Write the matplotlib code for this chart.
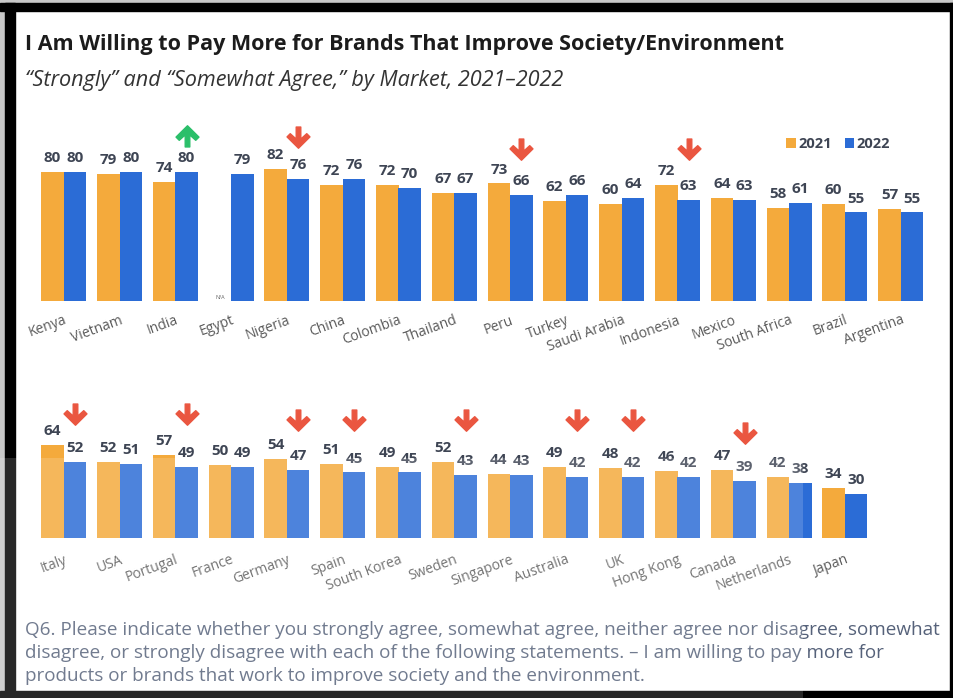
import numpy as np
import matplotlib
matplotlib.use("Agg")
import matplotlib.pyplot as plt
from matplotlib.path import Path
from matplotlib.patches import Rectangle

# ---------------- data ----------------
markets_top = ["Kenya", "Vietnam", "India", "Egypt", "Nigeria", "China", "Colombia",
               "Thailand", "Peru", "Turkey", "Saudi Arabia", "Indonesia", "Mexico",
               "South Africa", "Brazil", "Argentina"]
agree_2021_top = [80, 79, 74, np.nan, 82, 72, 72, 67, 73, 62, 60, 72, 64, 58, 60, 57]
agree_2022_top = [80, 80, 80, 79, 76, 76, 70, 67, 66, 66, 64, 63, 63, 61, 55, 55]

markets_bottom = ["Italy", "USA", "Portugal", "France", "Germany", "Spain", "South Korea",
                  "Sweden", "Singapore", "Australia", "UK", "Hong Kong", "Canada",
                  "Netherlands", "Japan"]
agree_2021_bottom = [64, 52, 57, 50, 54, 51, 49, 52, 44, 49, 48, 46, 47, 42, 34]
agree_2022_bottom = [52, 51, 49, 49, 47, 45, 45, 43, 43, 42, 42, 42, 39, 38, 30]

years = ["2021", "2022"]

title = "I Am Willing to Pay More for Brands That Improve Society/Environment"
subtitle = "\u201cStrongly\u201d and \u201cSomewhat Agree,\u201d by Market, 2021\u20132022"
footnote = [
    "Q6. Please indicate whether you strongly agree, somewhat agree, neither agree nor disagree, somewhat",
    "disagree, or strongly disagree with each of the following statements. \u2013 I am willing to pay more for",
    "products or brands that work to improve society and the environment.",
]

# ---------------- style ----------------
W, H = 954, 698
DPI = 100
ORANGE = "#F4AA3C"
BLUE = "#2B6CD6"
LABEL_C = "#3E4554"
TICK_C = "#5A5A5A"
FONT = "Open Sans"
plt.rcParams["font.family"] = [FONT, "DejaVu Sans"]

fig = plt.figure(figsize=(W / DPI, H / DPI), dpi=DPI, facecolor="white")


def fx(px):
    return px / W


def fy(py):
    return 1 - py / H


# frame around the card
frame = [
    (0, 0, W, 3, "#C8C8C8"),
    (0, 0, 5, H, "#C8C8C8"),
    (0, 3, W, 8, "black"),
    (5, 3, 10, H - 3, "black"),
    (950, 3, 4, H - 3, "black"),
    (0, 691, W, 7, "black"),
]
for x0, y0, w, h, c in frame:
    fig.patches.append(Rectangle((fx(x0), fy(y0 + h)), w / W, h / H,
                                 transform=fig.transFigure, color=c, zorder=0))

# heavy arrow glyph used to flag changes of more than five points
down_arrow = Path([(-0.2, 1.0), (0.2, 1.0), (0.2, -0.05), (0.72, 0.42), (1.0, 0.14),
                   (0.0, -0.85), (-1.0, 0.14), (-0.72, 0.42), (-0.2, -0.05), (-0.2, 1.0)],
                  closed=True)
up_arrow = Path([(x, -y) for x, y in down_arrow.vertices], closed=True)

ARROW_Y = {"India": 103, "Nigeria": 101.5, "Peru": 94, "Indonesia": 94,
           "Italy": 84.5, "Portugal": 84.5, "Germany": 80.5, "Spain": 80.5,
           "Sweden": 80.5, "Australia": 80.5, "UK": 80.5, "Canada": 71.5}

GROUP0 = 63.7      # pixel centre of the first market group
STEP = 55.8        # pixel distance between market groups
BAR_W = 22.5 / STEP


def panel(top_px, base_px, px_per_unit, markets, v21, v22, tick_pad):
    ax = fig.add_axes([fx(20), fy(base_px), 920 / W, (base_px - top_px) / H])
    ax.set_xlim((20 - GROUP0) / STEP, (940 - GROUP0) / STEP)
    ax.set_ylim(0, (base_px - top_px) / px_per_unit)
    ax.patch.set_alpha(0)
    for s in ax.spines.values():
        s.set_visible(False)
    ax.set_yticks([])
    x = np.arange(len(markets))
    b21 = ax.bar(x - BAR_W / 2, v21, BAR_W, color=ORANGE, label=years[0])
    b22 = ax.bar(x + BAR_W / 2, v22, BAR_W, color=BLUE, label=years[1])
    for bars, vals in ((b21, v21), (b22, v22)):
        labels = ["" if np.isnan(v) else f"{v:.0f}" for v in np.asarray(vals, float)]
        ax.bar_label(bars, labels=labels, padding=5, fontsize=11, fontweight="bold",
                     color=LABEL_C)
    for i, v in enumerate(v21):
        if np.isnan(v):
            ax.text(i - BAR_W / 2, 0.8, "N/A", fontsize=4, color="#666666",
                    ha="center", va="bottom")
    ax.set_xticks(x)
    ax.set_xticklabels(markets, rotation=20, ha="right", rotation_mode="anchor",
                       fontsize=10, color=TICK_C)
    ax.tick_params(axis="x", length=0, pad=tick_pad)
    for i, m in enumerate(markets):
        a, b = v21[i], v22[i]
        if np.isnan(a) or abs(b - a) <= 5:
            continue
        rising = b > a
        ax.plot(i + BAR_W / 2, ARROW_Y[m], ls="none",
                marker=up_arrow if rising else down_arrow, markersize=16.5,
                color="#2BBF6A" if rising else "#EA5640", clip_on=False)
    return ax, b21, b22


ax1, h21, h22 = panel(100, 301, 1.61, markets_top, agree_2021_top, agree_2022_top, 8.5)
ax2, _, _ = panel(395, 537.7, 1.45, markets_bottom, agree_2021_bottom, agree_2022_bottom, 10.5)

ax1.legend(handles=[h21, h22], loc="center", bbox_to_anchor=(fx(838), fy(144)),
           bbox_transform=fig.transFigure, ncol=2, frameon=False,
           handlelength=0.65, handleheight=0.65, handletextpad=0.15,
           columnspacing=0.9, borderpad=0,
           prop={"family": FONT, "weight": "bold", "size": 10.5},
           labelcolor=LABEL_C)

fig.text(fx(25), fy(50), title, fontsize=15.5, fontweight="bold", color="#1C1C1C",
         ha="left", va="baseline")
fig.text(fx(25), fy(86), subtitle, fontsize=15.6, fontstyle="italic", color="#333333",
         ha="left", va="baseline")
for k, line in enumerate(footnote):
    fig.text(fx(25), fy(635 + 23 * k), line, fontsize=13.6, color="#56627A",
             ha="left", va="baseline")

# pale wash over the lower part of the card
fig.patches.append(Rectangle((0, 0), fx(803), fy(458), transform=fig.transFigure,
                             facecolor="white", alpha=0.16, zorder=10))

fig.savefig("out.png", dpi=DPI, facecolor="white")
